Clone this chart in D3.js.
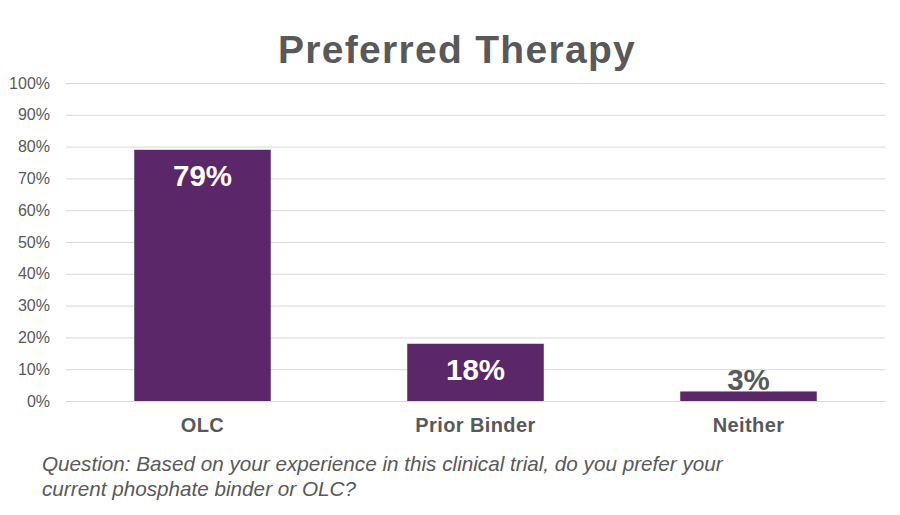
<!DOCTYPE html>
<html><head><meta charset="utf-8">
<script src="https://cdn.jsdelivr.net/npm/d3@7"></script>
<style>body{margin:0;background:#fff}svg{display:block;font-family:"Liberation Sans",Arial,sans-serif}</style>
</head><body><svg id="c" width="900" height="515"></svg>
<script>
const categories = ["OLC", "Prior Binder", "Neither"];
const values = [79, 18, 3];
const yTicks = [0,10,20,30,40,50,60,70,80,90,100];
const title = "Preferred Therapy";
const note = ["Question: Based on your experience in this clinical trial, do you prefer your", "current phosphate binder or OLC?"];

const svg = d3.select("#c");
const m = {left:66, right:885, top:83, bottom:401};
const x = d3.scaleBand().domain(categories).range([m.left, m.right]).paddingInner(0.5).paddingOuter(0.25);
const y = d3.scaleLinear().domain([0,100]).range([m.bottom, m.top]);
const grey = "#595959";

svg.append("text").attr("x", 457).attr("y", 63).attr("text-anchor","middle")
  .attr("font-size", 39).attr("letter-spacing", 1.3).attr("font-weight","bold").attr("fill", grey).text(title);

const yAxis = d3.axisLeft(y).tickValues(yTicks).tickFormat(d => d + "%").tickSize(-(m.right - m.left)).tickPadding(16);
const ga = svg.append("g").attr("transform", `translate(${m.left},0)`).call(yAxis);
ga.select(".domain").remove();
ga.selectAll(".tick line").attr("stroke", "#d9d9d9").attr("stroke-width", 1);
ga.selectAll(".tick text").attr("fill", grey).attr("font-size", 16).attr("font-family", '"Liberation Sans",Arial,sans-serif');

svg.selectAll("rect.bar").data(values).join("rect").attr("class","bar")
  .attr("x", (d,i) => x(categories[i])).attr("width", x.bandwidth())
  .attr("y", d => y(d)).attr("height", d => y(0) - y(d)).attr("fill", "#5b2769");

svg.selectAll("text.val").data(values).join("text").attr("class","val")
  .attr("x", (d,i) => x(categories[i]) + x.bandwidth()/2)
  .attr("y", d => d > 10 ? y(d) + 36 : y(d) - 1)
  .attr("text-anchor","middle").attr("font-size", 29.5).attr("font-weight","bold")
  .attr("fill", d => d > 10 ? "#fff" : grey).text(d => d + "%");

const gx = svg.append("g").attr("transform", `translate(0,${m.bottom})`).call(d3.axisBottom(x).tickSize(0).tickPadding(17));
gx.select(".domain").attr("stroke", "#d9d9d9");
gx.selectAll(".tick text").attr("fill", grey).attr("font-size", 20).attr("letter-spacing", 0.4).attr("font-weight","bold").attr("font-family", '"Liberation Sans",Arial,sans-serif');

svg.append("text").attr("x", 42).attr("y", 471).attr("font-size", 20.7).attr("font-style","italic").attr("fill", grey)
  .selectAll("tspan").data(note).join("tspan").attr("x", 42).attr("dy", (d,i) => i ? 25 : 0).text(d => d);
</script></body></html>
